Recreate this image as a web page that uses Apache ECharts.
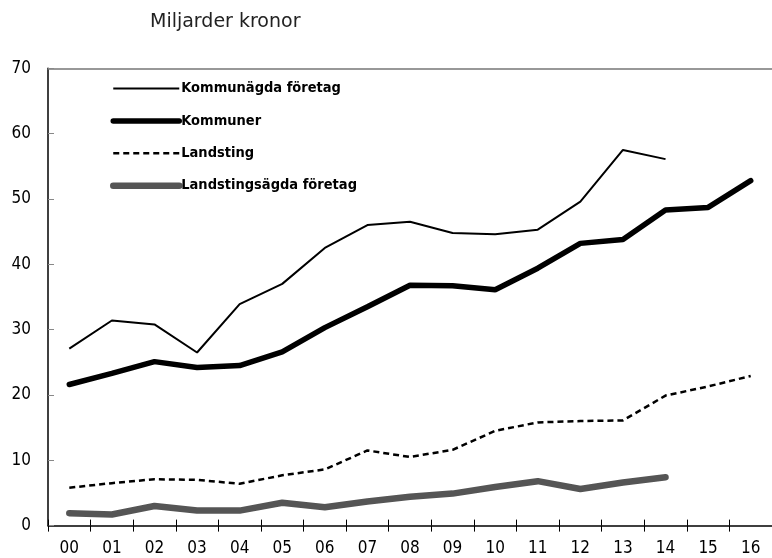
<!DOCTYPE html>
<html>
<head>
<meta charset="utf-8">
<script src="https://cdn.jsdelivr.net/npm/echarts@6/dist/echarts.min.js"></script>
<style>
html,body{margin:0;padding:0;background:#fff;}
#chart{width:772px;height:558px;}
</style>
</head>
<body>
<div id="chart"></div>
<script>
var categories = ['00','01','02','03','04','05','06','07','08','09','10','11','12','13','14','15','16'];
var kommunagdaForetag = [27.1, 31.4, 30.8, 26.5, 33.9, 37.0, 42.5, 46.0, 46.5, 44.8, 44.6, 45.3, 49.6, 57.5, 56.1, null, null];
var kommuner = [21.6, 23.3, 25.1, 24.2, 24.5, 26.6, 30.3, 33.5, 36.8, 36.7, 36.1, 39.4, 43.2, 43.8, 48.3, 48.7, 52.8];
var landsting = [5.8, 6.5, 7.1, 7.0, 6.4, 7.7, 8.6, 11.5, 10.5, 11.6, 14.5, 15.8, 16.0, 16.1, 19.9, 21.3, 22.9];
var landstingsagdaForetag = [1.9, 1.7, 3.0, 2.3, 2.3, 3.5, 2.8, 3.7, 4.4, 4.9, 5.9, 6.8, 5.6, 6.6, 7.4, null, null];
var yTicks = [0, 10, 20, 30, 40, 50, 60, 70];

var chart = echarts.init(document.getElementById('chart'), null, {renderer: 'canvas'});
var labelFont = '"DejaVu Sans Condensed", "Liberation Sans Narrow", sans-serif';
chart.setOption({
  animation: false,
  backgroundColor: '#fff',
  title: {
    text: 'Miljarder kronor',
    left: 145, top: 8,
    textStyle: {fontFamily: '"DejaVu Sans", sans-serif', fontSize: 19, fontWeight: 'normal', color: '#222'}
  },
  legend: {
    orient: 'vertical',
    left: 105, top: 76,
    itemWidth: 66, itemHeight: 14,
    itemGap: 17.4,
    data: ['Kommunägda företag', 'Kommuner', 'Landsting', 'Landstingsägda företag'],
    itemStyle: {color: 'rgba(0,0,0,0)', borderWidth: 0},
    lineStyle: {width: 'inherit'},
    textStyle: {fontFamily: labelFont, fontWeight: 'bold', fontSize: 14.5, color: '#000', padding: [0,0,0,-3]}
  },
  grid: {left: 48, top: 68.3, right: -5.6, bottom: 32.4, containLabel: false},
  xAxis: [
    {
      type: 'category', data: categories, position: 'bottom', boundaryGap: true,
      axisLine: {show: true, lineStyle: {color: '#000', width: 1.5}},
      axisTick: {show: true, inside: true, length: 6, lineStyle: {color: '#000', width: 1}},
      axisLabel: {fontFamily: labelFont, fontSize: 17, color: '#000', margin: 14}
    },
    {
      type: 'category', data: categories, position: 'bottom', boundaryGap: true,
      axisLine: {show: false},
      axisTick: {show: true, inside: false, length: 6, lineStyle: {color: '#000', width: 1}},
      axisLabel: {show: false}
    },
    {
      type: 'category', data: categories, position: 'top', boundaryGap: true,
      axisLine: {show: true, lineStyle: {color: '#777', width: 1.5}},
      axisTick: {show: false},
      axisLabel: {show: false}
    }
  ],
  yAxis: {
    type: 'value', min: 0, max: 70, interval: 10,
    axisLine: {show: true, lineStyle: {color: '#000', width: 1.5}},
    axisTick: {show: true, inside: true, length: 6, lineStyle: {color: '#888', width: 1}},
    splitLine: {show: false},
    axisLabel: {fontFamily: labelFont, fontSize: 17, color: '#000', margin: 17,
      formatter: function (v) { return yTicks.indexOf(v) >= 0 ? String(v) : ''; }}
  },
  series: [
    {name: 'Kommunägda företag', type: 'line', data: kommunagdaForetag, symbol: 'none',
      lineStyle: {color: '#000', width: 2}, itemStyle: {color: '#000'}},
    {name: 'Kommuner', type: 'line', data: kommuner, symbol: 'none',
      lineStyle: {color: '#000', width: 5.5, cap: 'round'}, itemStyle: {color: '#000'}},
    {name: 'Landsting', type: 'line', data: landsting, symbol: 'none',
      lineStyle: {color: '#000', width: 2.5, type: [6, 4]}, itemStyle: {color: '#000'}},
    {name: 'Landstingsägda företag', type: 'line', data: landstingsagdaForetag, symbol: 'none',
      lineStyle: {color: '#555', width: 6.5, cap: 'round'}, itemStyle: {color: '#555'}}
  ]
});
</script>
</body>
</html>
